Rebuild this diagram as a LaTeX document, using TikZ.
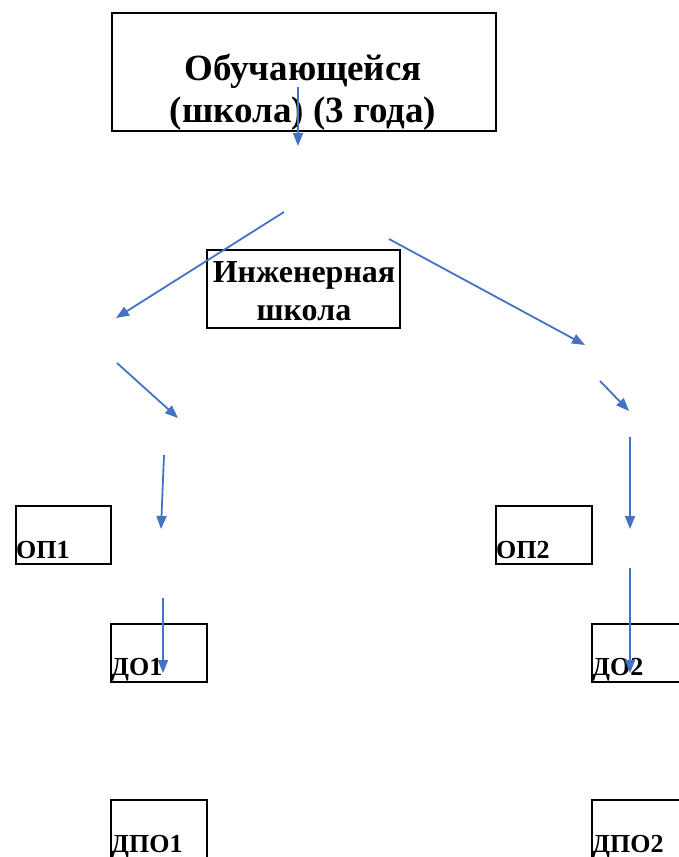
\documentclass[tikz,border=0pt]{standalone}
\usepackage{fontspec}
\setmainfont{Liberation Serif}
\usetikzlibrary{arrows.meta}
\definecolor{arrowblue}{RGB}{68,114,196}
\begin{document}
\begin{tikzpicture}[x=1pt,y=-1pt,
  box/.style={draw=black,line width=2.2pt,inner sep=0pt},
  biglbl/.style={font=\bfseries\fontsize{37}{42}\selectfont,inner sep=0pt,anchor=base},
  midlbl/.style={font=\bfseries\fontsize{32}{38}\selectfont,inner sep=0pt,anchor=base},
  smalllbl/.style={font=\bfseries\fontsize{26}{30}\selectfont,inner sep=0pt,anchor=base west},
  arr/.style={draw=arrowblue,line width=1.8pt,-{Triangle[length=13pt,width=10pt]}}]
\useasboundingbox (0,0) rectangle (679,857);
\clip (0,0) rectangle (679,857);
\fill[white] (0,0) rectangle (679,857);

% boxes
\node[box,minimum width=384pt,minimum height=118pt] (top) at (304,72) {};
\node[box,minimum width=193pt,minimum height=78pt] (eng) at (303.5,289) {};
\node[box,minimum width=95pt,minimum height=58pt] (op1) at (63.5,535) {};
\node[box,minimum width=96pt,minimum height=58pt] (op2) at (544,535) {};
\node[box,minimum width=96pt,minimum height=58pt] (do1) at (159,653) {};
\node[box,minimum width=100pt,minimum height=58pt] (do2) at (642,653) {};
\node[box,minimum width=96pt,minimum height=70pt] (dpo1) at (159,835) {};
\node[box,minimum width=100pt,minimum height=70pt] (dpo2) at (642,835) {};

% texts
\node[biglbl] (t1) at (303,80) {Обучающейся};
\node[biglbl] (t2) at (303,122) {(школа) (3 года)};
\node[midlbl] (e1) at (304,282) {Инженерная};
\node[midlbl] (e2) at (304,320) {школа};
\node[smalllbl] (l1) at (16,558) {ОП1};
\node[smalllbl] (l2) at (496,558) {ОП2};
\node[smalllbl] (l3) at (111,675) {ДО1};
\node[smalllbl] (l4) at (592,675) {ДО2};
\node[smalllbl] (l5) at (111,852) {ДПО1};
\node[smalllbl] (l6) at (592,852) {ДПО2};

% arrow end points
\coordinate (a1s) at (298,87);   \coordinate (a1e) at (298,146);
\coordinate (a2s) at (284,212);  \coordinate (a2e) at (116,318);
\coordinate (a3s) at (389,239);  \coordinate (a3e) at (585,345);
\coordinate (a4s) at (117,363);  \coordinate (a4e) at (178,418);
\coordinate (a5s) at (600,381);  \coordinate (a5e) at (629,411);
\coordinate (a6s) at (164,455);  \coordinate (a6e) at (161,529);
\coordinate (a7s) at (630,437);  \coordinate (a7e) at (630,529);
\coordinate (a8s) at (163,598);  \coordinate (a8e) at (163,673);
\coordinate (a9s) at (630,568);  \coordinate (a9e) at (630,673);

\draw[arr] (a1s) -- (a1e);
\draw[arr] (a2s) -- (a2e);
\draw[arr] (a3s) -- (a3e);
\draw[arr] (a4s) -- (a4e);
\draw[arr] (a5s) -- (a5e);
\draw[arr] (a6s) -- (a6e);
\draw[arr] (a7s) -- (a7e);
\draw[arr] (a8s) -- (a8e);
\draw[arr] (a9s) -- (a9e);
\end{tikzpicture}
\end{document}
